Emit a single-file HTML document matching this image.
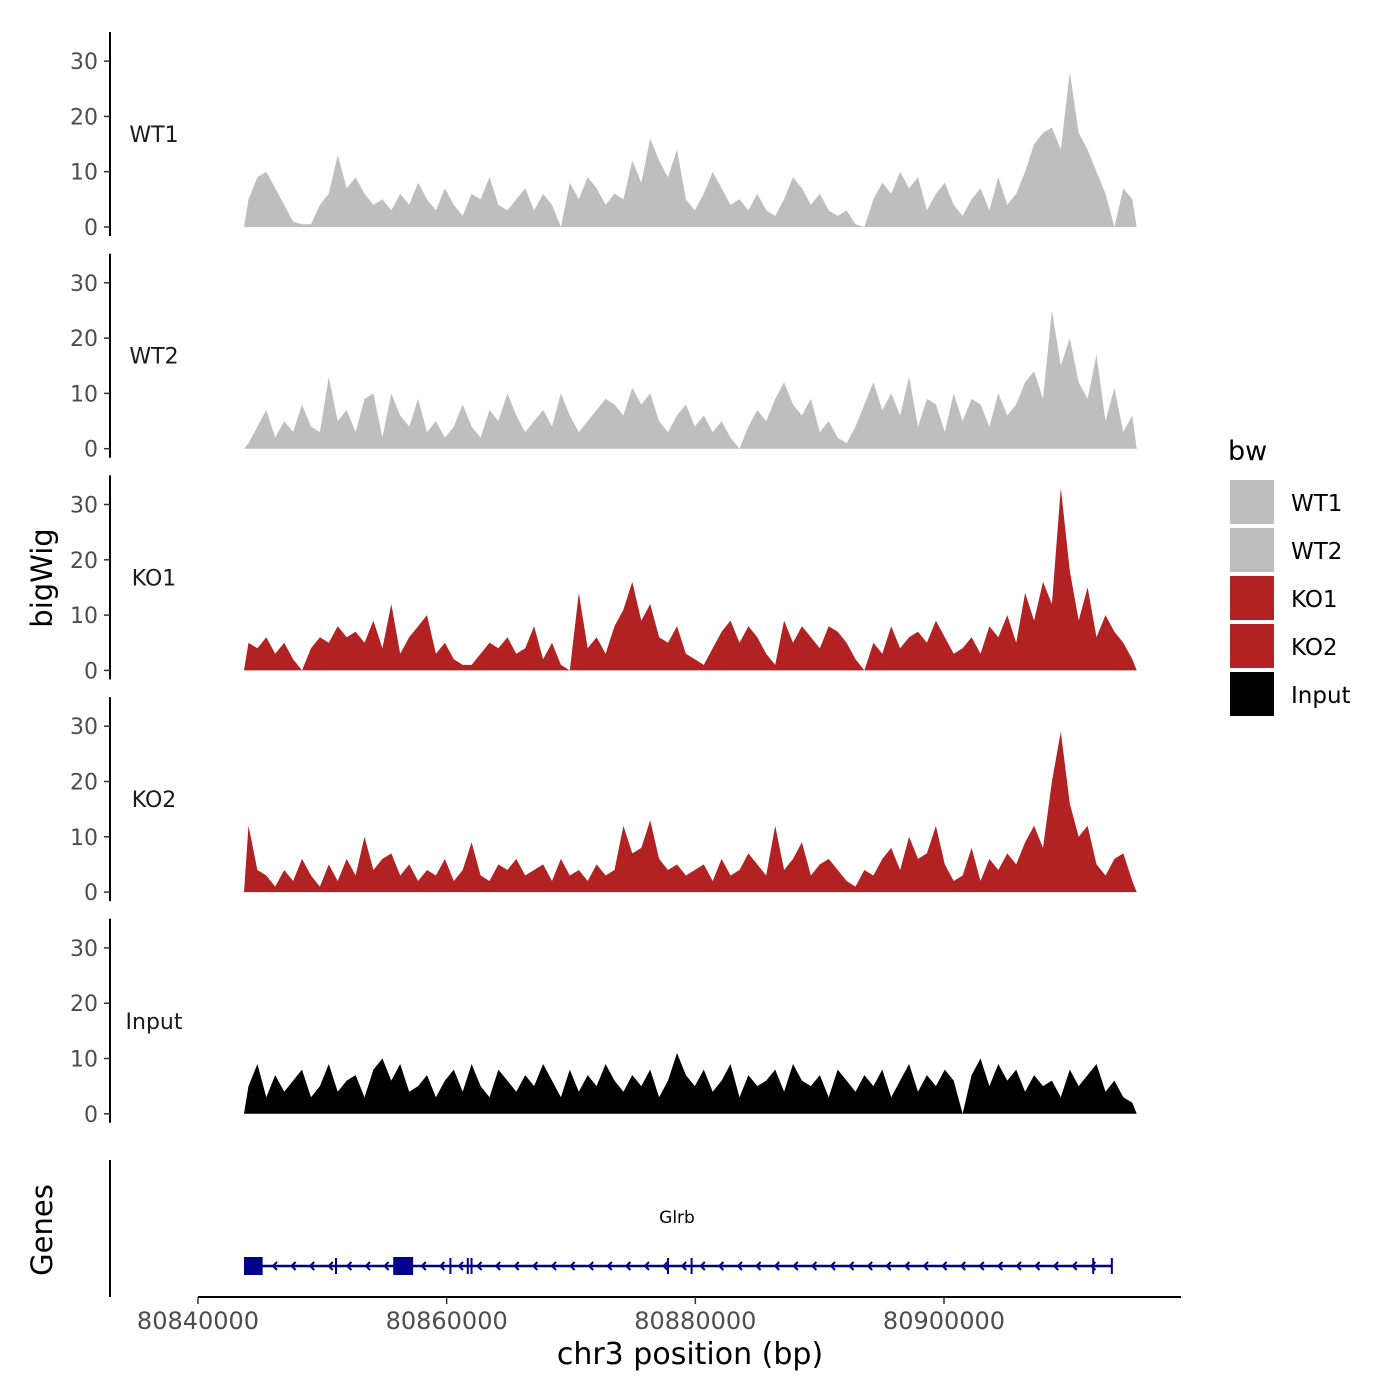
<!DOCTYPE html>
<html><head><meta charset="utf-8"><style>
body{margin:0;background:#fff}
svg{display:block;font-family:"DejaVu Sans","Liberation Sans",sans-serif}
</style></head><body>
<svg id="c" width="1400" height="1400" viewBox="0 0 1400 1400"></svg>
<script>
const trackNames=["WT1","WT2","KO1","KO2","Input"];
const trackColors=["#bebebe","#bebebe","#b22222","#b22222","#000000"];
const yTicks=[0,10,20,30];
const xTicks=[80840000,80860000,80880000,80900000];
const xTickLabels=["80840000","80860000","80880000","80900000"];
const dataStart=80843700, dataEnd=80915500;
const wt1=[5,9,10,7,4,1,0.5,0.5,4,6, 13,7,9,6,4,5,3,6,4,8, 5,3,7,4,2,6,5,9,4,3, 5,7,3,6,4,0,8,5,9,7, 4,6,5,12,8,16,12,9,14,5, 3,6,10,7,4,5,3,6,3,2, 5,9,7,4,6,3,2,3,0.5,0, 5,8,6,10,7,9,3,6,8,4, 2,5,7,3,9,4,6,10,15,17, 18,14,28,17,14,10,6,0,7,5];
const wt2=[1,4,7,2,5,3,8,4,3,13, 5,7,3,9,10,2,10,6,4,9, 3,5,2,4,8,4,2,7,5,10, 6,3,5,7,4,10,6,3,5,7, 9,8,6,11,8,10,5,3,6,8, 4,6,3,5,2,0,4,7,5,9, 12,8,6,9,3,5,2,1,4,8, 12,7,10,6,13,4,9,8,3,10, 5,9,8,4,10,6,8,12,14,9, 25,15,20,12,9,17,5,11,3,6];
const ko1=[5,4,6,3,5,2,0,4,6,5, 8,6,7,5,9,4,12,3,6,8, 10,3,5,2,1,1,3,5,4,6, 3,4,8,2,5,1,0,14,4,6, 3,8,11,16,9,12,6,5,8,3, 2,1,4,7,9,5,8,6,3,1, 9,5,8,6,4,8,7,5,2,0, 5,3,8,4,6,7,5,9,6,3, 4,6,3,8,6,10,5,14,9,16, 12,33,18,9,15,6,10,7,5,2];
const ko2=[12,4,3,1,4,2,6,3,1,5, 2,6,3,10,4,6,7,3,5,2, 4,3,6,2,4,9,3,2,5,4, 6,3,4,5,2,6,3,4,2,5, 3,4,12,7,8,13,6,4,5,3, 4,5,2,6,3,4,7,5,3,12, 4,6,9,3,5,6,4,2,1,4, 3,6,8,4,10,6,7,12,5,2, 3,8,2,6,4,7,5,9,12,8, 20,29,16,10,12,5,3,6,7,2];
const inputVals=[5,9,3,7,4,6,8,3,5,9, 4,6,7,3,8,10,6,9,4,5, 7,3,6,8,4,9,5,3,8,6, 4,7,5,9,6,3,8,4,7,5, 9,6,4,7,5,8,3,6,11,7, 5,8,4,6,9,3,7,5,6,8, 4,9,6,5,7,3,8,6,4,7, 5,8,3,6,9,4,7,5,8,6, 0,7,10,5,9,6,8,4,7,5, 6,3,8,5,7,9,4,6,3,2];
const series=[wt1,wt2,ko1,ko2,inputVals];
const legendLabels=["WT1","WT2","KO1","KO2","Input"];
const geneStart=80843700, geneEnd=80913500;
const exonsBig=[[80843700,80845200],[80855700,80857300]];
const exonTicks=[80851100,80860300,80861700,80862000,80877800,80879700,80912000,80913500];

const NS="http://www.w3.org/2000/svg";
const svg=document.getElementById('c');
function el(t,a,p){const e=document.createElementNS(NS,t);for(const k in a)e.setAttribute(k,a[k]);(p||svg).appendChild(e);return e;}
const X=v=>198+(v-80840000)*(746/60000);
const panelBase=k=>227+221.7*k;
const Y=(k,v)=>panelBase(k)-v*5.53;

series.forEach((vals,k)=>{
  const g=el('g',{});
  
  
  const n=vals.length, step=(dataEnd-dataStart)/n;
  let d='M'+X(dataStart)+','+panelBase(k);
  vals.forEach((v,i)=>{d+=' L'+X(dataStart+step*(i+0.5)).toFixed(1)+','+Y(k,v).toFixed(1);});
  d+=' L'+X(dataEnd)+','+panelBase(k)+' Z';
  const p=el('path',{d:d,fill:trackColors[k]},g);
  
  
  const ax=el('line',{x1:110,x2:110,y1:panelBase(k)-195,y2:panelBase(k)+9,stroke:'#000','stroke-width':2},g);
  
  
  yTicks.forEach(t=>{
    el('line',{x1:104,x2:110,y1:Y(k,t),y2:Y(k,t),stroke:'#333','stroke-width':1.5},g);
    const tx=el('text',{x:98,y:Y(k,t)+8,'text-anchor':'end','font-size':22,fill:'#4d4d4d'},g);
    tx.textContent=t;
    
    
  });
  const lb=el('text',{x:154,y:panelBase(k)-85,'text-anchor':'middle','font-size':22,fill:'#1a1a1a'},g);
  lb.textContent=trackNames[k];
  
  
});

const yt=el('text',{x:0,y:0,transform:'translate(52,578) rotate(-90)','text-anchor':'middle','font-size':29,fill:'#000'});
yt.textContent='bigWig';


const gt=el('text',{x:0,y:0,transform:'translate(52,1230) rotate(-90)','text-anchor':'middle','font-size':29,fill:'#000'});
gt.textContent='Genes';



el('line',{x1:110,x2:110,y1:1160,y2:1297,stroke:'#000','stroke-width':2});
const xa=el('line',{x1:198,x2:1181,y1:1297,y2:1297,stroke:'#000','stroke-width':2});


xTicks.forEach((t,i)=>{
  el('line',{x1:X(t),x2:X(t),y1:1297,y2:1304,stroke:'#333','stroke-width':1.5});
  const tx=el('text',{x:X(t),y:1329,'text-anchor':'middle','font-size':24,fill:'#4d4d4d'});
  tx.textContent=xTickLabels[i];
  
  
});
const xt=el('text',{x:690,y:1364,'text-anchor':'middle','font-size':30,fill:'#000'});
xt.textContent='chr3 position (bp)';



const gg=el('g',{});


const gy=1266, gc='#00008b';
el('line',{x1:X(geneStart),x2:X(geneEnd),y1:gy,y2:gy,stroke:gc,'stroke-width':2.5},gg);
for(let x=X(geneStart)+30;x<X(geneEnd)-5;x+=18.6){
  el('polyline',{points:(x+3)+','+(gy-4)+' '+(x-1)+','+gy+' '+(x+3)+','+(gy+4),fill:'none',stroke:gc,'stroke-width':2},gg);
}
exonsBig.forEach(e=>el('rect',{x:X(e[0]),y:gy-9,width:X(e[1])-X(e[0]),height:18,fill:gc},gg));
exonTicks.forEach(t=>el('line',{x1:X(t),x2:X(t),y1:gy-8,y2:gy+8,stroke:gc,'stroke-width':2},gg));
const gn=el('text',{x:677,y:1223,'text-anchor':'middle','font-size':17,fill:'#000'},gg);
gn.textContent='Glrb';



const lg=el('g',{});


const lt=el('text',{x:1228,y:460,'font-size':27,fill:'#000'},lg);
lt.textContent='bw';
legendLabels.forEach((l,i)=>{
  const y=480+i*48;
  const r=el('rect',{x:1230,y:y,width:44,height:44,fill:trackColors[i]},lg);
  
  
  const t=el('text',{x:1291,y:y+31,'font-size':23,fill:'#000'},lg);
  t.textContent=l;
  
  
});
</script>
</body></html>
